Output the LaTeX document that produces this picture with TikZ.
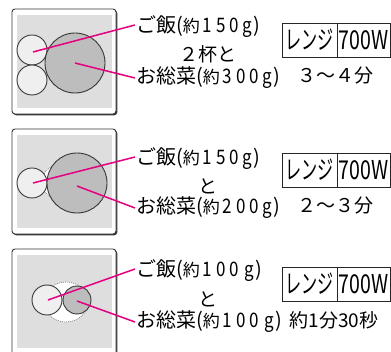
\documentclass[tikz,border=0pt]{standalone}
\usepackage{fontspec}
\setmainfont{Noto Sans CJK JP}
\definecolor{mag}{RGB}{228,0,127}
\definecolor{bigc}{RGB}{189,189,189}
\definecolor{smallc}{RGB}{239,239,239}
\definecolor{dotbg}{RGB}{222,222,222}
\definecolor{edge}{RGB}{55,55,55}
\newcommand\fsz[1]{\fontsize{#1}{#1}\selectfont}
\newcommand\dsp{\hspace{4.5pt}}
% (約 d1 d2 d3 g) in the condensed, spaced style of the reference
\newcommand\yaku[1]{{\fsz{20}(}{\fsz{17}約}{\fsz{20}\hspace{3pt}\scalebox{0.85}[1]{#1}\hspace{1.5pt})}}
\begin{document}
\begin{tikzpicture}[x=1pt,y=-1pt,
  panel/.style={draw=edge, line width=0.9pt, fill=white, rounded corners=3pt},
  shadow/.style={fill=edge, rounded corners=3pt},
  dotarea/.style={fill=dotbg},
  smallcirc/.style={circle, draw=edge, line width=0.9pt, fill=smallc, inner sep=0pt, outer sep=0pt},
  bigcirc/.style={circle, draw=edge, line width=0.9pt, fill=bigc, inner sep=0pt, outer sep=0pt},
  hidcirc/.style={draw=edge!70, line width=0.6pt, dash pattern=on 1pt off 1pt, fill=white},
  magline/.style={draw=mag, line width=1.5pt},
  txt/.style={inner sep=0pt, outer sep=0pt, text=black},
  tbl/.style={draw=black!85, line width=0.8pt},
  cell/.style={inner sep=0pt, outer sep=0pt, font=\fsz{26}}
]
\useasboundingbox (0,0) rectangle (391,352);
\clip (0,0) rectangle (391,352);

% ---------------- panel 1 ----------------
\fill[shadow] (13.3,10.3) rectangle (117.3,115.3);
\draw[panel] (12,9) rectangle (116,114);
\fill[dotarea] (17,15) rectangle (112,108);
\node[smallcirc, minimum size=30pt] (a1) at (32,50) {};
\node[smallcirc, minimum size=30pt] (a2) at (32,80) {};
\node[bigcirc, minimum size=60pt] (b1) at (75,63) {};
\node[txt, anchor=west] (g1) at (136,27) {{\fsz{20}ご飯}\yaku{1\dsp5\dsp0\dsp g}};
\node[txt] (m1) at (208,54) {\fsz{19}２杯と};
\node[txt, anchor=west] (o1) at (136,78) {{\fsz{20}お総菜}\yaku{3\dsp0\dsp0\dsp g}};
\draw[magline] ([xshift=1pt,yshift=-2pt]a1.center) -- ([xshift=-1pt,yshift=2pt]g1.west);
\draw[magline] (b1.center) -- ([xshift=-1pt]o1.west);
\draw[tbl] (282,23) rectangle (390,57);
\draw[tbl] (337,23) -- (337,57);
\node[cell] (r1) at (309.5,40) {\scalebox{0.62}[1]{レンジ}};
\node[cell] (w1) at (363.5,40) {\scalebox{0.75}[1]{700W}};
\node[txt] (t1) at (335,76) {\fsz{19}３～４分};

% ---------------- panel 2 ----------------
\fill[shadow] (13.3,130.3) rectangle (117.3,235.3);
\draw[panel] (12,129) rectangle (116,234);
\fill[dotarea] (17,135) rectangle (112,228);
\draw[hidcirc] (59,182) circle (17);
\node[smallcirc, minimum size=30pt] (a3) at (32,183) {};
\node[bigcirc, minimum size=60pt] (b2) at (77,183) {};
\node[txt, anchor=west] (g2) at (136,159) {{\fsz{20}ご飯}\yaku{1\dsp5\dsp0\dsp g}};
\node[txt] (m2) at (208,186) {\fsz{19}と};
\node[txt, anchor=west] (o2) at (136,208) {{\fsz{20}お総菜}\yaku{2\dsp0\dsp0\dsp g}};
\draw[magline] ([xshift=1pt]a3.center) -- ([xshift=-1pt,yshift=2pt]g2.west);
\draw[magline] ([yshift=-3pt]b2.center) -- ([xshift=-1pt]o2.west);
\draw[tbl] (282,153) rectangle (390,187);
\draw[tbl] (337,153) -- (337,187);
\node[cell] (r2) at (309.5,170) {\scalebox{0.62}[1]{レンジ}};
\node[cell] (w2) at (363.5,170) {\scalebox{0.75}[1]{700W}};
\node[txt] (t2) at (335,206) {\fsz{19}２～３分};

% ---------------- panel 3 ----------------
\fill[shadow] (13.3,250.3) rectangle (117.3,362);
\draw[panel] (12,249) rectangle (116,360);
\fill[dotarea] (17,255) rectangle (112,348);
\draw[hidcirc] (66,302) ellipse (22 and 20);
\node[smallcirc, minimum size=30pt] (a4) at (47,300) {};
\node[bigcirc, minimum size=28pt] (b3) at (77,300) {};
\node[txt, anchor=west] (g3) at (136,271) {{\fsz{20}ご飯}\yaku{1\dsp0\dsp0\hspace{6.5pt}g}};
\node[txt] (m3) at (208,299) {\fsz{19}と};
\node[txt, anchor=west] (o3) at (136,322) {{\fsz{20}お総菜}\yaku{1\dsp0\dsp0\hspace{6.5pt}g}};
\draw[magline] ([xshift=1pt]a4.center) -- ([xshift=-1pt,yshift=2pt]g3.west);
\draw[magline] ([yshift=-1pt]b3.center) -- ([xshift=-1pt]o3.west);
\draw[tbl] (282,267) rectangle (390,301);
\draw[tbl] (337,267) -- (337,301);
\node[cell] (r3) at (309.5,284) {\scalebox{0.62}[1]{レンジ}};
\node[cell] (w3) at (363.5,284) {\scalebox{0.75}[1]{700W}};
\node[txt] (t3) at (334,320) {\fsz{19}約1分30秒};
\end{tikzpicture}
\end{document}
